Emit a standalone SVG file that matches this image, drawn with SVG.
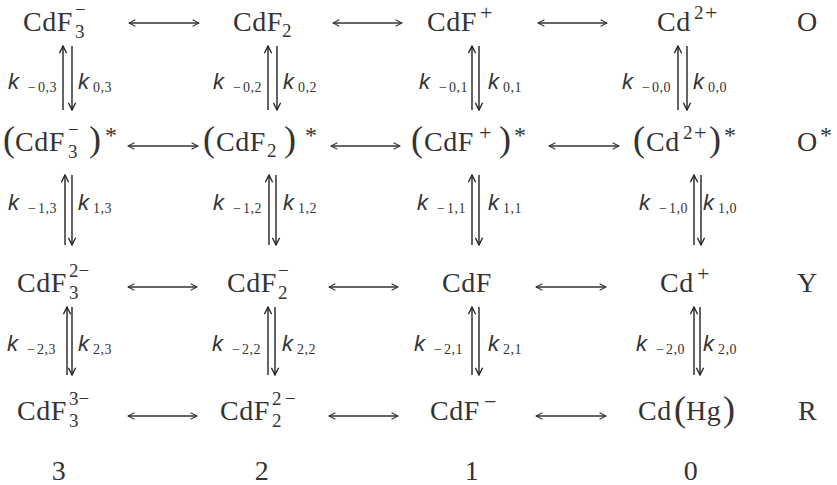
<svg xmlns="http://www.w3.org/2000/svg" width="837" height="485" viewBox="0 0 837 485">
<defs>
<marker id="ah" viewBox="0 0 10 10" refX="9" refY="5" markerWidth="8" markerHeight="8" markerUnits="userSpaceOnUse" orient="auto-start-reverse">
<path d="M1,1 L9,5 L1,9" fill="none" stroke="#333" stroke-width="1.3"/>
</marker>
<marker id="vh" viewBox="0 0 10 10" refX="9" refY="5" markerWidth="9" markerHeight="9" markerUnits="userSpaceOnUse" orient="auto">
<path d="M1,1 L9,5 L1,9" fill="none" stroke="#222" stroke-width="1.5"/>
</marker>
</defs>
<style>
.t{font-family:"Liberation Serif","Times New Roman",serif;font-size:28px;fill:#333;letter-spacing:0.5px}
.s{font-size:19px;letter-spacing:0}
.pl{font-size:22px;letter-spacing:0}
.st{font-size:24px;letter-spacing:0}
.p{font-size:36px;letter-spacing:0}
.k{font-family:"Liberation Sans",Arial,sans-serif;font-style:italic;font-size:22px;fill:#333}
.ks{font-family:"Liberation Serif","Times New Roman",serif;font-style:normal;font-size:14px;letter-spacing:0.5px}
.h{fill:none;stroke:#333;stroke-width:1.3;marker-start:url(#ah);marker-end:url(#ah)}
.v{fill:none;stroke:#222;stroke-width:1.4;marker-end:url(#vh)}
</style>
<rect width="837" height="485" fill="#fff"/>
<g id="connectors">
<path class="h" d="M129,23 H199"/><path class="h" d="M333,23 H402"/><path class="h" d="M538,23 H607"/>
<path class="h" d="M128,146 H198"/><path class="h" d="M331,146 H400"/><path class="h" d="M549,146 H619"/>
<path class="h" d="M128,287 H197"/><path class="h" d="M329,287 H398"/><path class="h" d="M536,287 H606"/>
<path class="h" d="M128,416 H197"/><path class="h" d="M329,416 H398"/><path class="h" d="M536,416 H606"/>
<path class="v" d="M63,110 V46"/><path class="v" d="M72,46 V110"/>
<path class="v" d="M268,110 V46"/><path class="v" d="M277,46 V110"/>
<path class="v" d="M472,110 V46"/><path class="v" d="M479,46 V110"/>
<path class="v" d="M678,110 V46"/><path class="v" d="M687,46 V110"/>
<path class="v" d="M65,245 V175"/><path class="v" d="M72,175 V245"/>
<path class="v" d="M269,245 V175"/><path class="v" d="M276,175 V245"/>
<path class="v" d="M472,245 V175"/><path class="v" d="M479,175 V245"/>
<path class="v" d="M694,245 V175"/><path class="v" d="M701,175 V245"/>
<path class="v" d="M67,375 V307"/><path class="v" d="M72,307 V375"/>
<path class="v" d="M268,375 V307"/><path class="v" d="M275,307 V375"/>
<path class="v" d="M472,375 V307"/><path class="v" d="M479,307 V375"/>
<path class="v" d="M694,375 V307"/><path class="v" d="M700,307 V375"/>
</g>
<g id="labels">
<text class="k" x="8" y="89">k<tspan class="ks" x="28" y="92">−</tspan><tspan class="ks" x="38" y="92">0,3</tspan></text>
<text class="k" x="78" y="89">k<tspan class="ks" x="93" y="92">0,3</tspan></text>
<text class="k" x="213" y="89">k<tspan class="ks" x="233" y="92">−</tspan><tspan class="ks" x="243" y="92">0,2</tspan></text>
<text class="k" x="283" y="89">k<tspan class="ks" x="298" y="92">0,2</tspan></text>
<text class="k" x="419" y="89">k<tspan class="ks" x="439" y="92">−</tspan><tspan class="ks" x="449" y="92">0,1</tspan></text>
<text class="k" x="488" y="89">k<tspan class="ks" x="503" y="92">0,1</tspan></text>
<text class="k" x="622" y="89">k<tspan class="ks" x="642" y="92">−</tspan><tspan class="ks" x="652" y="92">0,0</tspan></text>
<text class="k" x="693" y="89">k<tspan class="ks" x="708" y="92">0,0</tspan></text>
<text class="k" x="8" y="210">k<tspan class="ks" x="28" y="213">−</tspan><tspan class="ks" x="38" y="213">1,3</tspan></text>
<text class="k" x="78" y="210">k<tspan class="ks" x="93" y="213">1,3</tspan></text>
<text class="k" x="213" y="210">k<tspan class="ks" x="233" y="213">−</tspan><tspan class="ks" x="243" y="213">1,2</tspan></text>
<text class="k" x="283" y="210">k<tspan class="ks" x="298" y="213">1,2</tspan></text>
<text class="k" x="417" y="210">k<tspan class="ks" x="437" y="213">−</tspan><tspan class="ks" x="447" y="213">1,1</tspan></text>
<text class="k" x="488" y="210">k<tspan class="ks" x="503" y="213">1,1</tspan></text>
<text class="k" x="639" y="210">k<tspan class="ks" x="659" y="213">−</tspan><tspan class="ks" x="669" y="213">1,0</tspan></text>
<text class="k" x="703" y="210">k<tspan class="ks" x="718" y="213">1,0</tspan></text>
<text class="k" x="7" y="351">k<tspan class="ks" x="27" y="354">−</tspan><tspan class="ks" x="37" y="354">2,3</tspan></text>
<text class="k" x="78" y="351">k<tspan class="ks" x="93" y="354">2,3</tspan></text>
<text class="k" x="212" y="351">k<tspan class="ks" x="232" y="354">−</tspan><tspan class="ks" x="242" y="354">2,2</tspan></text>
<text class="k" x="282" y="351">k<tspan class="ks" x="297" y="354">2,2</tspan></text>
<text class="k" x="414" y="351">k<tspan class="ks" x="434" y="354">−</tspan><tspan class="ks" x="444" y="354">2,1</tspan></text>
<text class="k" x="488" y="351">k<tspan class="ks" x="503" y="354">2,1</tspan></text>
<text class="k" x="636" y="351">k<tspan class="ks" x="656" y="354">−</tspan><tspan class="ks" x="666" y="354">2,0</tspan></text>
<text class="k" x="703" y="351">k<tspan class="ks" x="718" y="354">2,0</tspan></text>
</g>
<g id="n-CdF3m"><text class="t" x="23" y="31">CdF<tspan class="s" x="75" y="38">3</tspan><tspan class="s" x="75" y="16">−</tspan></text></g>
<g id="n-CdF2"><text class="t" x="233" y="31">CdF<tspan class="s" x="282" y="37">2</tspan></text></g>
<g id="n-CdFp"><text class="t" x="427" y="31">CdF<tspan class="pl" x="480" y="20">+</tspan></text></g>
<g id="n-Cd2p"><text class="t" x="657" y="31">Cd<tspan class="s" x="694" y="19">2</tspan><tspan class="pl" x="705" y="20">+</tspan></text></g>
<g id="n-O"><text class="t" x="797" y="31">O</text></g>
<g id="n-CdF3m-ex"><text class="t" x="3" y="151"><tspan class="p">(</tspan><tspan x="15">CdF</tspan><tspan class="s" x="68" y="158">3</tspan><tspan class="s" x="68" y="136">−</tspan><tspan class="p" x="89" y="151">)</tspan><tspan class="st" x="105" y="143">*</tspan></text></g>
<g id="n-CdF2-ex"><text class="t" x="203" y="151"><tspan class="p">(</tspan><tspan x="216">CdF</tspan><tspan class="s" x="267" y="157">2</tspan><tspan class="p" x="284" y="151">)</tspan><tspan class="st" x="305" y="143">*</tspan></text></g>
<g id="n-CdFp-ex"><text class="t" x="411" y="151"><tspan class="p">(</tspan><tspan x="424">CdF</tspan><tspan class="pl" x="479" y="140">+</tspan><tspan class="p" x="499" y="151">)</tspan><tspan class="st" x="514" y="143">*</tspan></text></g>
<g id="n-Cd2p-ex"><text class="t" x="633" y="151"><tspan class="p">(</tspan><tspan x="646">Cd</tspan><tspan class="s" x="683" y="139">2</tspan><tspan class="pl" x="694" y="140">+</tspan><tspan class="p" x="709" y="151">)</tspan><tspan class="st" x="724" y="143">*</tspan></text></g>
<g id="n-Oex"><text class="t" x="797" y="151">O<tspan class="st" x="820" y="143">*</tspan></text></g>
<g id="n-CdF3-2m"><text class="t" x="17" y="292">CdF<tspan class="s" x="69" y="299">3</tspan><tspan class="s" x="69" y="277">2−</tspan></text></g>
<g id="n-CdF2m"><text class="t" x="227" y="292">CdF<tspan class="s" x="278" y="299">2</tspan><tspan class="s" x="278" y="277">−</tspan></text></g>
<g id="n-CdF"><text class="t" x="442" y="292">CdF</text></g>
<g id="n-Cdp"><text class="t" x="660" y="292">Cd<tspan class="pl" x="697" y="281">+</tspan></text></g>
<g id="n-Y"><text class="t" x="797" y="292">Y</text></g>
<g id="n-CdF3-3m"><text class="t" x="17" y="420">CdF<tspan class="s" x="69" y="427">3</tspan><tspan class="s" x="69" y="405">3−</tspan></text></g>
<g id="n-CdF2-2m"><text class="t" x="220" y="420">CdF<tspan class="s" x="272" y="427">2</tspan><tspan class="s" x="272" y="405">2</tspan><tspan class="s" x="285" y="405">−</tspan></text></g>
<g id="n-CdFm"><text class="t" x="430" y="420">CdF<tspan class="pl" x="484" y="409">−</tspan></text></g>
<g id="n-CdHg"><text class="t" x="638" y="420">Cd<tspan class="p" x="674" y="421">(</tspan><tspan x="686" y="420">Hg</tspan><tspan class="p" x="723" y="421">)</tspan></text></g>
<g id="n-R"><text class="t" x="798" y="420">R</text></g>
<g id="index" class="t" text-anchor="middle">
<text x="59" y="480">3</text><text x="262" y="480">2</text><text x="472" y="480">1</text><text x="691" y="480">0</text>
</g>
</svg>
